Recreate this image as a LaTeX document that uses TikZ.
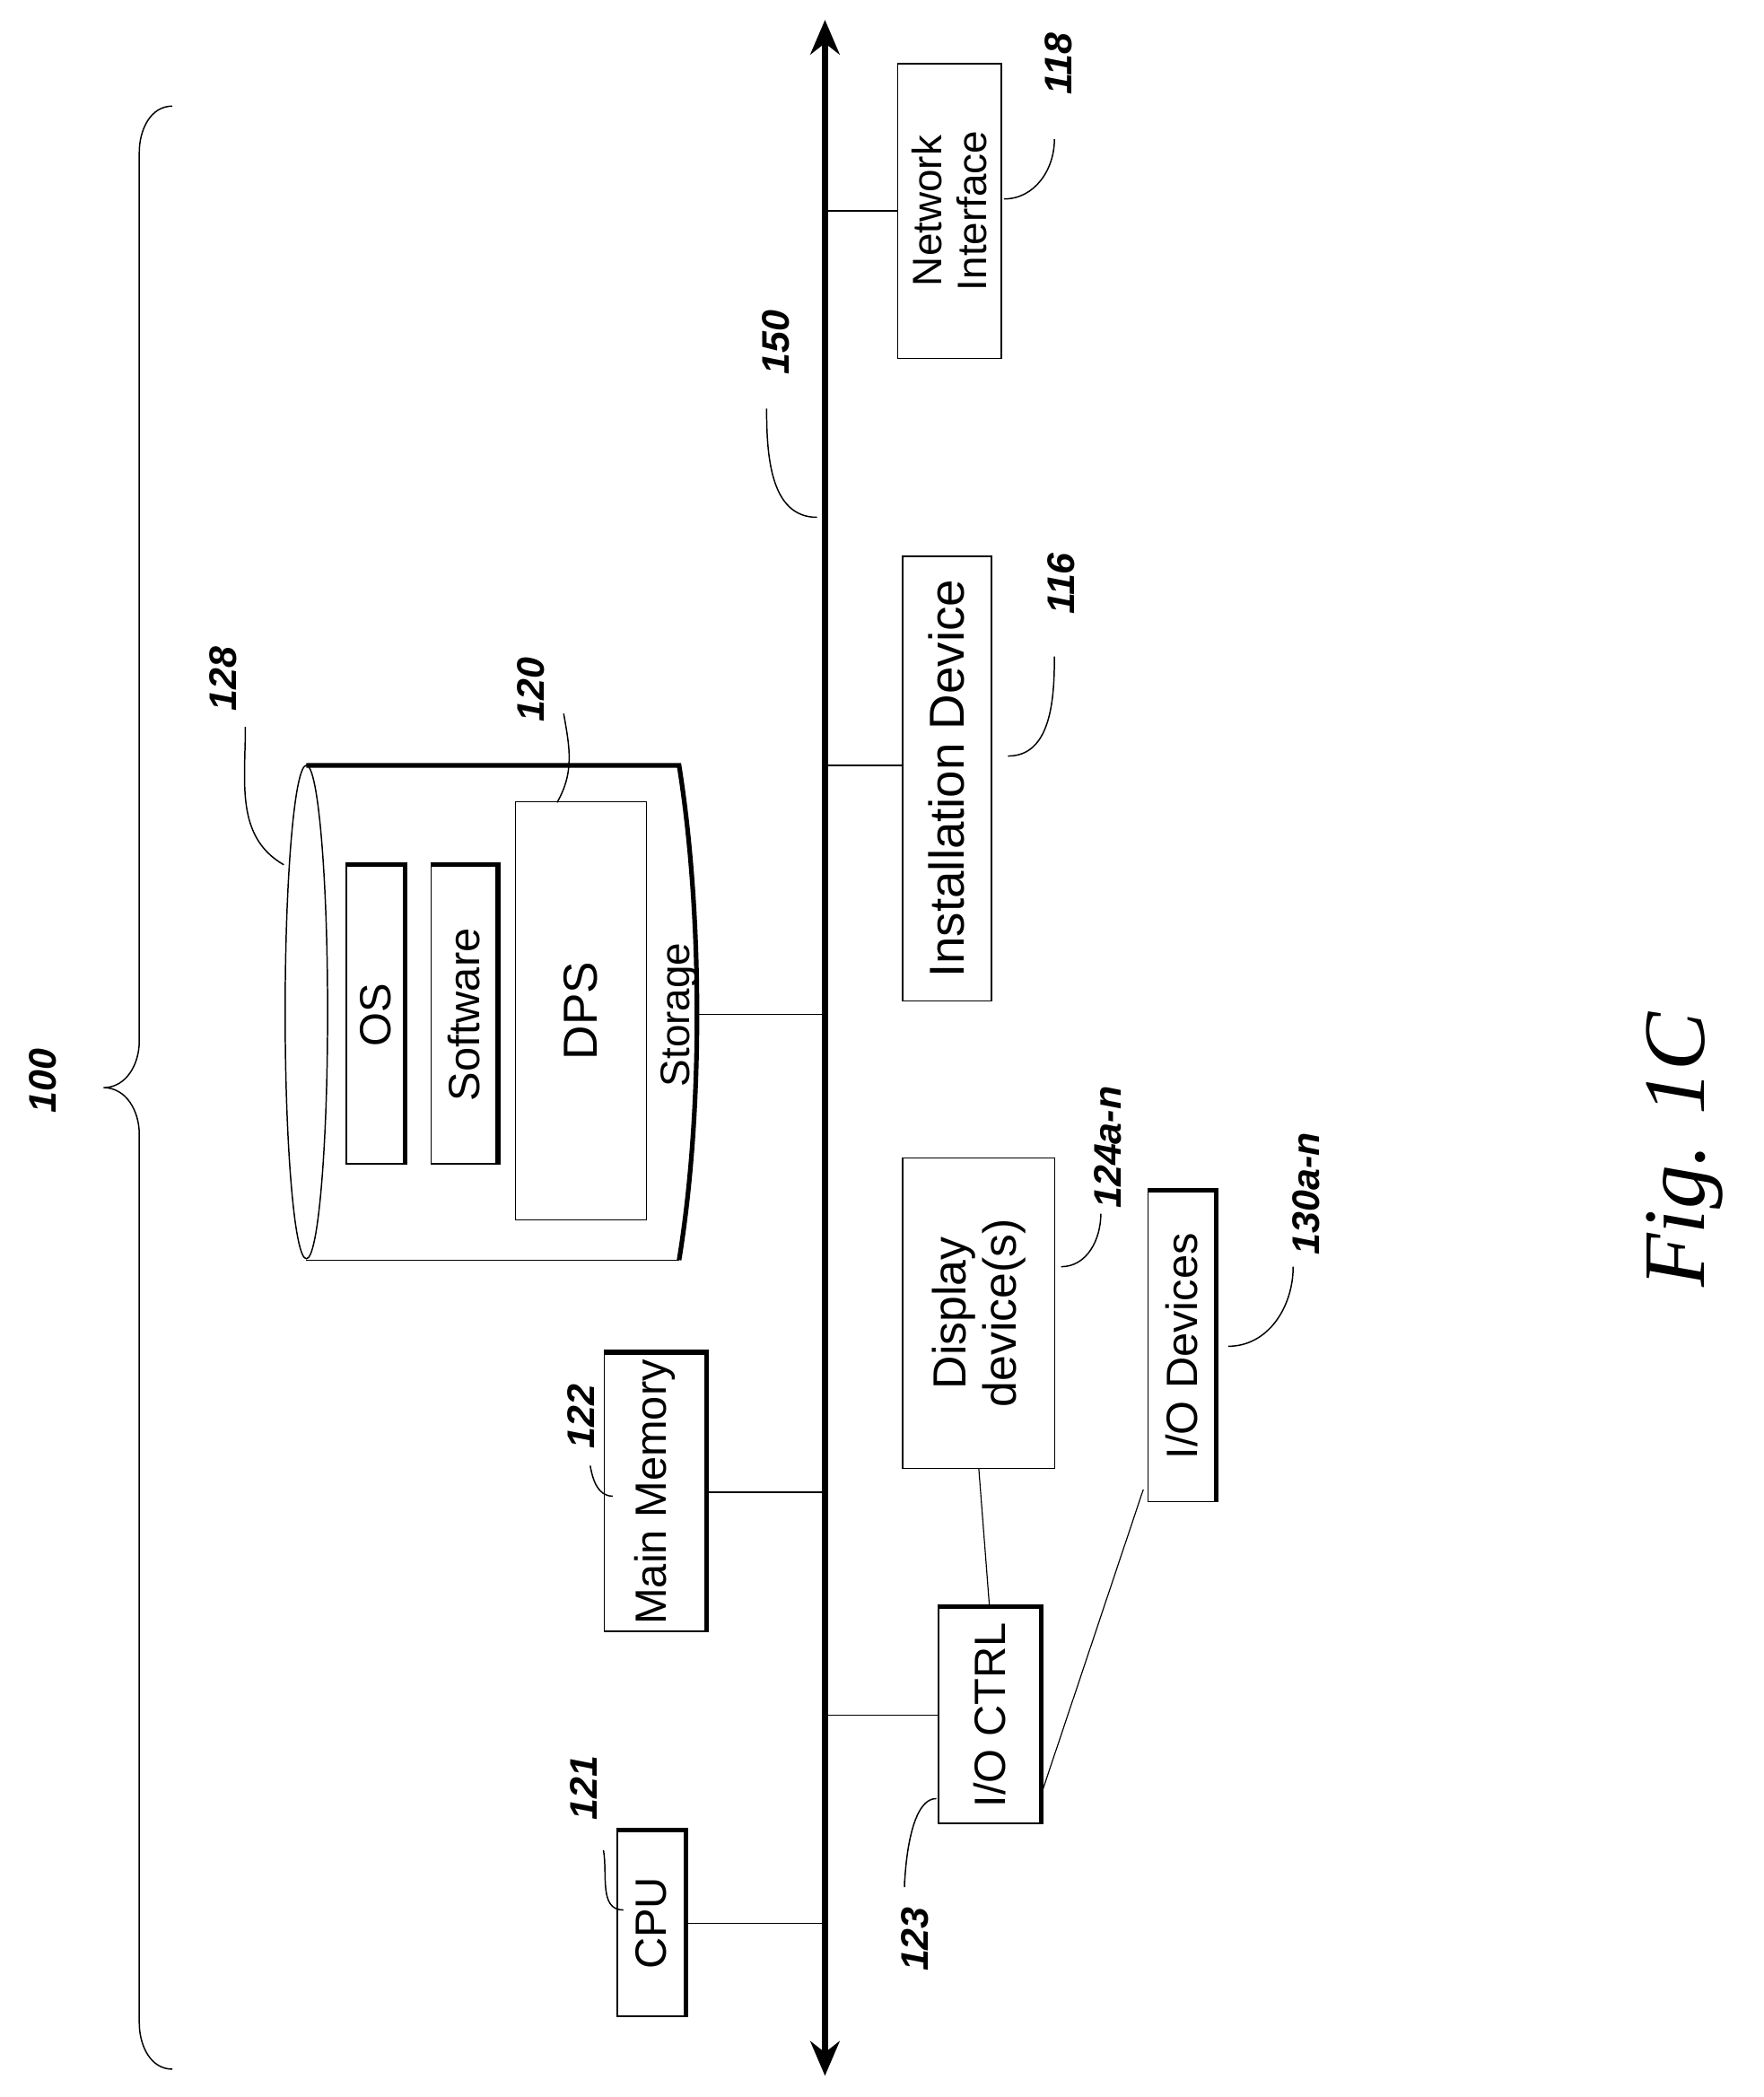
\documentclass[tikz,border=0pt]{standalone}
\usepackage{fontspec}
\setmainfont{Liberation Sans}
\newfontfamily\figfont{Liberation Serif}
\usetikzlibrary{arrows.meta}
\begin{document}
\begin{tikzpicture}[x=1pt,y=-1pt,
  box/.style={draw,line width=1pt,fill=white,rotate=90,inner sep=0pt,align=center,font=\fontsize{33}{36}\selectfont},
  lbl/.style={rotate=90,font=\fontsize{29}{30}\selectfont\bfseries\itshape},
  lead/.style={line width=1pt},
  conn/.style={line width=0.8pt},
  shadow/.style={line width=3.5pt}]
\useasboundingbox (0,0) rectangle (1330,1581);
% bus
\coordinate (bt) at (622,15);
\coordinate (bb) at (622,1565);
\draw[line width=4.5pt,{Stealth[length=26pt,width=22pt]}-{Stealth[length=26pt,width=22pt]}] (bt) -- (bb);
\node[lbl] (l150) at (585,258) {150};
\coordinate (c150) at (578,308);
\draw[lead] (c150) to[out=-90,in=180] (616,390);
% brace
\draw[line width=1pt] (130,80) to[out=180,in=90] (105,115) -- (105,785) to[out=-90,in=0] (78,820) to[out=0,in=90] (105,855) -- (105,1525) to[out=-90,in=180] (130,1560);
\node[lbl] (l100) at (32,815) {100};
% CPU
\node[box,minimum width=140pt,minimum height=51pt] (cpu) at (491,1450) {CPU};
\draw[shadow] (cpu.north east) -- (cpu.south east) -- (cpu.south west);
\draw[conn] (cpu.south) -- (cpu.south -| bt);
\node[lbl] (l121) at (440,1348) {121};
\draw[lead] (455,1395) to[out=-80,in=180] (470,1440);
% Main memory
\node[box,minimum width=210pt,minimum height=77pt] (mem) at (494,1125) {Main Memory};
\draw[shadow] (mem.north east) -- (mem.south east) -- (mem.south west);
\draw[conn] (mem.south) -- (mem.south -| bt);
\node[lbl] (l122) at (438,1068) {122};
\draw[lead] (445,1105) to[out=-80,in=180] (462,1128);
% cylinder
\draw[line width=1pt] (231,763) ellipse [x radius=16, y radius=186];
\draw[line width=1pt] (231,950) -- (512,950);
\draw[line width=3.5pt] (231,577) -- (512,577) .. controls (530,690) and (530,840) .. (512,950);
\coordinate (stor) at (527,765);
\node[rotate=90,font=\fontsize{31}{34}\selectfont,anchor=south] (stlab) at (530,765) {Storage};
\draw[conn] (stor) -- (stor -| bt);
\node[box,minimum width=225pt,minimum height=44pt] (os) at (283,765) {OS};
\draw[shadow] (os.north east) -- (os.south east) -- (os.south west);
\node[box,minimum width=225pt,minimum height=50pt] (sw) at (350,765) {Software};
\draw[shadow] (sw.north east) -- (sw.south east) -- (sw.south west);
\node[box,line width=0.8pt,minimum width=315pt,minimum height=99pt,font=\fontsize{36}{38}\selectfont] (dps) at (438,762) {DPS};
\node[lbl] (l128) at (168,512) {128};
\draw[lead] (185,548) to[out=-90,in=150] (214,652);
\node[lbl] (l120) at (400,520) {120};
\draw[lead] (425,538) to[out=-80,in=60] (420,605);
% IO CTRL
\node[box,minimum width=163pt,minimum height=77pt] (ioc) at (746,1293) {I/O CTRL};
\draw[shadow] (ioc.north east) -- (ioc.south east) -- (ioc.south west);
\draw[conn] (ioc.north -| bt) -- (ioc.north);
\node[lbl] (l123) at (690,1462) {123};
\draw[lead] (682,1418) to[out=-90,in=180] (706,1356);
% Display
\node[box,line width=0.8pt,minimum width=234pt,minimum height=115pt,font=\fontsize{35}{38}\selectfont] (disp) at (738,990) {Display\\device(s)};
\draw[conn] (disp.south west |- disp.west) ++(0,0);
\draw[conn] (disp.west) -- (ioc.east);
\node[lbl] (l124) at (835,865) {124a-n};
\draw[lead] (830,915) to[out=-90,in=0] (800,955);
% IO devices
\node[box,minimum width=234pt,minimum height=51pt] (iod) at (891,1015) {I/O Devices};
\draw[shadow] (iod.north east) -- (iod.south east) -- (iod.south west);
\draw[conn] (ioc.south west) ++(0,-22) coordinate (iocr) (iocr) -- (862,1123);
\node[lbl] (l130) at (985,900) {130a-n};
\draw[lead] (975,955) to[out=-90,in=0] (926,1015);
% Installation
\node[box,minimum width=335pt,minimum height=67pt,font=\fontsize{37}{40}\selectfont] (inst) at (714,587) {Installation Device};
\draw[conn] (inst.north |- 0,577) -- (622,577);
\node[lbl] (l116) at (800,440) {116};
\draw[lead] (795,495) to[out=-90,in=0] (760,570);
% Network
\node[box,line width=0.8pt,minimum width=222pt,minimum height=78pt,font=\fontsize{31}{34}\selectfont] (net) at (716,159) {Network\\Interface};
\draw[conn] (bt |- net.north) -- (net.north);
\node[lbl] (l118) at (798,48) {118};
\draw[lead] (795,105) to[out=-90,in=0] (757,150);
% figure
\node[rotate=90,font=\fontsize{66}{70}\selectfont\figfont\itshape] (fig) at (1270,867) {Fig. 1C};
\end{tikzpicture}
\end{document}
